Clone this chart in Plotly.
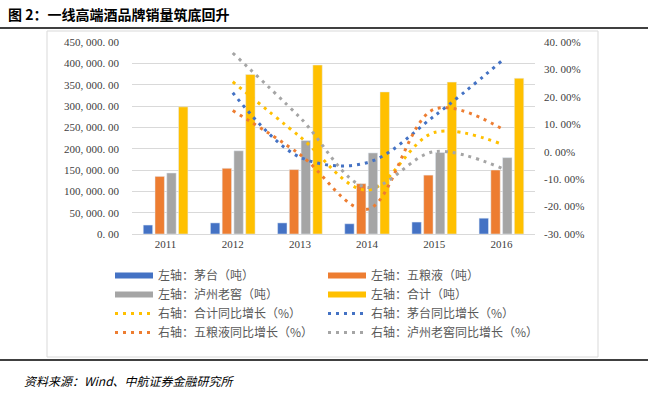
import plotly.graph_objects as go

years = ["2011", "2012", "2013", "2014", "2015", "2016"]
yoy_years = ["2012", "2013", "2014", "2015", "2016"]

maotai = [21000, 26000, 26000, 24000, 28000, 37000]
wuliangye = [135000, 154000, 151000, 118000, 138000, 150000]
luzhou = [143000, 195000, 219000, 190000, 191000, 179000]
total = [298000, 374000, 396000, 333000, 356000, 365000]

total_yoy = [0.255, 0.055, -0.14, 0.07, 0.028]
maotai_yoy = [0.215, -0.02, -0.04, 0.13, 0.33]
wly_yoy = [0.15, -0.01, -0.21, 0.155, 0.085]
lz_yoy = [0.36, 0.125, -0.13, 0.0, -0.06]

left_ticks = [0, 50000, 100000, 150000, 200000, 250000, 300000, 350000, 400000, 450000]
left_ticktext = ["0. 00", "50, 000. 00", "100, 000. 00", "150, 000. 00", "200, 000. 00",
                 "250, 000. 00", "300, 000. 00", "350, 000. 00", "400, 000. 00", "450, 000. 00"]
right_ticks = [-0.3, -0.2, -0.1, 0.0, 0.1, 0.2, 0.3, 0.4]
right_ticktext = ["-30. 00%", "-20. 00%", "-10. 00%", "0. 00%", "10. 00%", "20. 00%", "30. 00%", "40. 00%"]

C_BLUE = "#4472C4"
C_ORANGE = "#ED7D31"
C_GRAY = "#A5A5A5"
C_GOLD = "#FFC000"

CJK = "Noto Sans CJK SC"
NUM = "Liberation Serif"

fig = go.Figure()

bars = [("左轴：茅台（吨）", maotai, C_BLUE),
        ("左轴：五粮液（吨）", wuliangye, C_ORANGE),
        ("左轴：泸州老窖（吨）", luzhou, C_GRAY),
        ("左轴：合计（吨）", total, C_GOLD)]
for name, vals, col in bars:
    fig.add_trace(go.Bar(x=years, y=vals, name=name, marker_color=col,
                         showlegend=False, yaxis="y"))

# legend proxies for bars (wide rectangles)
for name, vals, col in bars:
    fig.add_trace(go.Scatter(x=[None], y=[None], mode="lines", name=name,
                             line=dict(color=col, width=6), yaxis="y"))

lines = [("右轴：合计同比增长（%）", total_yoy, C_GOLD),
         ("右轴：茅台同比增长（%）", maotai_yoy, C_BLUE),
         ("右轴：五粮液同比增长（%）", wly_yoy, C_ORANGE),
         ("右轴：泸州老窖同比增长（%）", lz_yoy, C_GRAY)]
for name, vals, col in lines:
    fig.add_trace(go.Scatter(x=yoy_years, y=vals, name=name, mode="lines",
                             line=dict(color=col, width=3, dash="3px,5px", shape="spline", smoothing=1),
                             yaxis="y2"))

W, H = 648, 396
l, r, t, b = 132, 113, 42, 162
pw, ph = W - l - r, H - t - b
def px(xp):
    return (xp - l) / pw
def py(yp):
    return (H - b - yp) / ph

fig.update_layout(
    width=W, height=H,
    margin=dict(l=l, r=r, t=t, b=b),
    paper_bgcolor="white", plot_bgcolor="white",
    bargap=0.3, bargroupgap=0.2, barmode="group",
    xaxis=dict(type="category", categoryorder="array", categoryarray=years,
               showgrid=False, showline=True, linecolor="#D9D9D9", ticks="",
               tickfont=dict(family=NUM, size=11, color="#404040")),
    yaxis=dict(range=[0, 450000], tickvals=left_ticks, ticktext=left_ticktext,
               showgrid=True, gridcolor="#D9D9D9", gridwidth=1, zeroline=False,
               showline=False, ticks="", ticklabelstandoff=12,
               tickfont=dict(family=NUM, size=11, color="#404040")),
    yaxis2=dict(range=[-0.3, 0.4], tickvals=right_ticks, ticktext=right_ticktext,
                overlaying="y", side="right", showgrid=False, zeroline=False,
                showline=False, ticks="", ticklabelstandoff=8,
                tickfont=dict(family=NUM, size=11, color="#404040")),
    legend=dict(orientation="h", x=px(110), xanchor="left", y=py(261), yanchor="top",
                entrywidth=160, entrywidthmode="pixels", itemwidth=38,
                traceorder="normal", tracegroupgap=0,
                font=dict(family=CJK, size=12, color="#595959"),
                bgcolor="rgba(0,0,0,0)"),
    shapes=[
        dict(type="line", xref="paper", yref="paper", x0=px(0), x1=px(648), y0=py(28), y1=py(28),
             line=dict(color="black", width=1.5)),
        dict(type="line", xref="paper", yref="paper", x0=px(0), x1=px(648), y0=py(360), y1=py(360),
             line=dict(color="black", width=1.5)),
        dict(type="rect", xref="paper", yref="paper", x0=px(47), x1=px(598), y0=py(357), y1=py(31),
             line=dict(color="#D9D9D9", width=1), layer="below"),
    ],
)

fig.add_annotation(text="<b>图 2：一线高端酒品牌销量筑底回升</b>", xref="paper", yref="paper",
                   x=px(6), y=py(14), xanchor="left", yanchor="middle", showarrow=False,
                   font=dict(family=CJK, size=14, color="black"))
fig.add_annotation(text="<i>资料来源：Wind、中航证券金融研究所</i>", xref="paper", yref="paper",
                   x=px(22), y=py(380), xanchor="left", yanchor="middle", showarrow=False,
                   font=dict(family=CJK, size=12, color="black"))

fig.write_html("out.html", config={"displayModeBar": False},
               post_script="document.body.style.margin='0';")
